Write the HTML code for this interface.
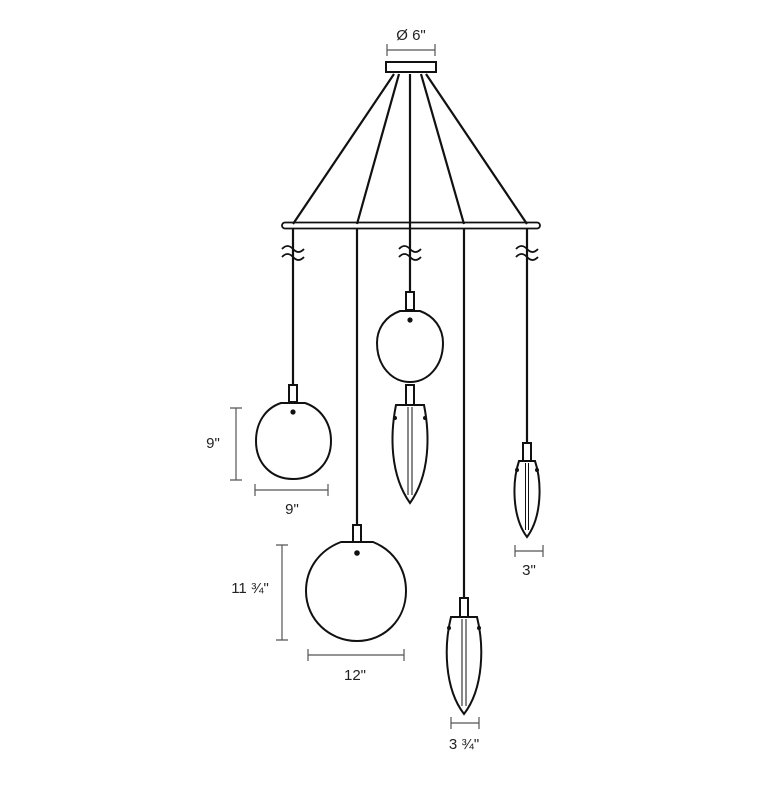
<!DOCTYPE html>
<html><head><style>
html,body{margin:0;padding:0;background:#fff}
svg text{font-family:"Liberation Sans",sans-serif;font-size:15px;fill:#222}
</style></head><body>
<svg width="780" height="780" viewBox="0 0 780 780" xmlns="http://www.w3.org/2000/svg">
<g stroke="#111" fill="none" stroke-width="2.2">
<rect x="386" y="62" width="50" height="10" stroke-width="2"/>
<line x1="394" y1="74" x2="293" y2="224"/>
<line x1="399" y1="74" x2="357" y2="224"/>
<line x1="410" y1="74" x2="410" y2="292"/>
<line x1="421" y1="74" x2="464" y2="224"/>
<line x1="426" y1="74" x2="527" y2="224"/>
<rect x="282" y="222.5" width="258" height="6" rx="3" stroke-width="1.8"/>
<line x1="293" y1="229" x2="293" y2="385"/>
<line x1="357" y1="229" x2="357" y2="525"/>
<line x1="464" y1="229" x2="464" y2="598"/>
<line x1="527" y1="229" x2="527" y2="443"/>
</g>
<g stroke="#111" fill="none" stroke-width="1.8">
<path d="M282 249 q5.5 -6 11 0 t11 0 M282 257 q5.5 -6 11 0 t11 0"/>
<path d="M399 249 q5.5 -6 11 0 t11 0 M399 257 q5.5 -6 11 0 t11 0"/>
<path d="M516 249 q5.5 -6 11 0 t11 0 M516 257 q5.5 -6 11 0 t11 0"/>
</g>
<g stroke="#111" fill="none" stroke-width="2">
<rect x="289" y="385" width="8" height="17"/>
<path d="M281 403 L305 403 C320 408 331 422 331 441 C331 464 314 479 293 479 C272 479 256 464 256 441 C256 422 266 408 281 403 Z"/>
<circle cx="293" cy="412" r="1.6" fill="#111"/>
<rect x="406" y="292" width="8" height="18"/>
<path d="M400 311 L420 311 C434 316 443 328 443 343 C443 366 428 382 410 382 C392 382 377 366 377 343 C377 328 386 316 400 311 Z"/>
<circle cx="410" cy="320" r="1.6" fill="#111"/>
<rect x="406" y="385" width="8" height="20"/>
<path d="M396 405 L424 405 C430 435 430 475 410 503 C390 475 390 435 396 405 Z"/>
<line x1="408" y1="407" x2="408" y2="495" stroke-width="1"/>
<line x1="412" y1="407" x2="412" y2="495" stroke-width="1"/>
<rect x="353" y="525" width="8" height="17"/>
<path d="M341 542 L373 542 C393 550 406 568 406 591 C406 620 384 641 357 641 C330 641 306 620 306 591 C306 568 320 550 341 542 Z"/>
<circle cx="357" cy="553" r="1.8" fill="#111"/>
<rect x="460" y="598" width="8" height="19"/>
<path d="M451 617 L477 617 C484 645 484 688 464 714 C444 688 444 645 451 617 Z"/>
<line x1="462" y1="619" x2="462" y2="706" stroke-width="1"/>
<line x1="466" y1="619" x2="466" y2="706" stroke-width="1"/>
<rect x="523" y="443" width="8" height="18"/>
<path d="M519 461 L535 461 C542 482 542 517 527 537 C512 517 512 482 519 461 Z"/>
<line x1="525.5" y1="463" x2="525.5" y2="530" stroke-width="1"/>
<line x1="528.5" y1="463" x2="528.5" y2="530" stroke-width="1"/>
</g>
<g fill="#111">
<circle cx="395" cy="418" r="2"/><circle cx="425" cy="418" r="2"/>
<circle cx="449" cy="628" r="2"/><circle cx="479" cy="628" r="2"/>
<circle cx="517" cy="470" r="2"/><circle cx="537" cy="470" r="2"/>
</g>
<g stroke="#555" stroke-width="1.2" fill="none">
<path d="M387 44 V56 M435 44 V56 M387 50 H435"/>
<path d="M230 408 H242 M230 480 H242 M236 408 V480"/>
<path d="M255 484 V496 M328 484 V496 M255 490 H328"/>
<path d="M276 545 H288 M276 640 H288 M282 545 V640"/>
<path d="M308 649 V661 M404 649 V661 M308 655 H404"/>
<path d="M515 545 V557 M543 545 V557 M515 551 H543"/>
<path d="M451 717 V729 M479 717 V729 M451 723 H479"/>
</g>
<text x="411" y="40" text-anchor="middle">Ø 6"</text>
<text x="213" y="448" text-anchor="middle">9"</text>
<text x="292" y="514" text-anchor="middle">9"</text>
<text x="250" y="593" text-anchor="middle">11 ¾"</text>
<text x="355" y="680" text-anchor="middle">12"</text>
<text x="529" y="575" text-anchor="middle">3"</text>
<text x="464" y="749" text-anchor="middle">3 ¾"</text>
</svg>
</body></html>
